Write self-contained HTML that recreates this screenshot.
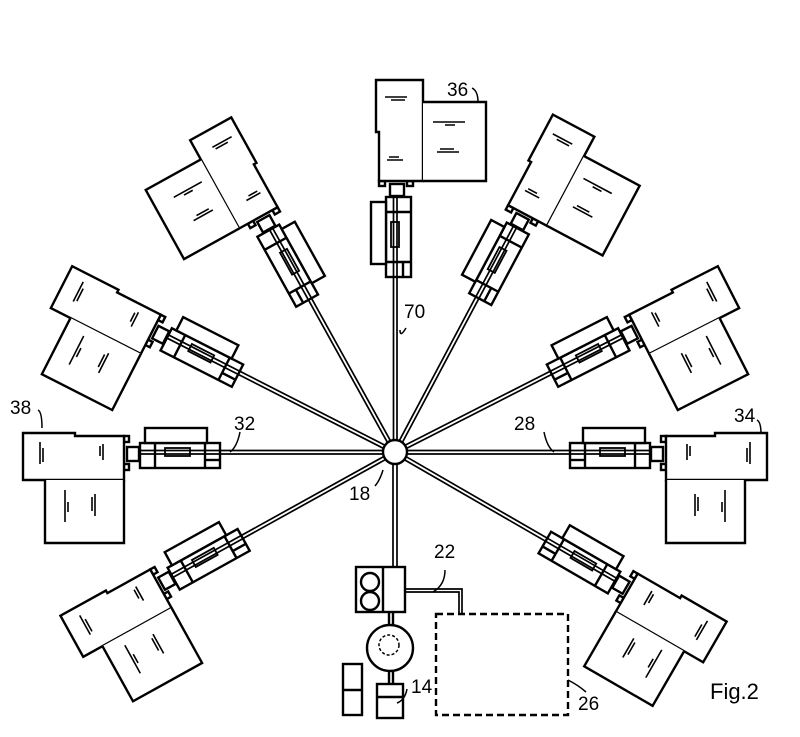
<!DOCTYPE html>
<html><head><meta charset="utf-8"><style>
html,body{margin:0;padding:0;background:#fff;}
svg{display:block;}
text{font-family:"Liberation Sans",sans-serif;fill:#000;}
</style></head><body>
<svg width="800" height="737" viewBox="0 0 800 737" xmlns="http://www.w3.org/2000/svg">
<defs>
<g id="st" fill="none" stroke="#000" stroke-width="2.4">
  <line x1="12" y1="-1.5" x2="256" y2="-1.5" stroke-width="1.7"/>
  <line x1="12" y1="2" x2="256" y2="2" stroke-width="1.7"/>
  <rect x="175" y="-9" width="80" height="25" fill="#fff"/>
  <line x1="175" y1="-1.5" x2="256" y2="-1.5" stroke-width="1.7"/>
  <line x1="175" y1="2" x2="256" y2="2" stroke-width="1.7"/>
  <line x1="190" y1="-9" x2="190" y2="16"/>
  <line x1="175" y1="8" x2="190" y2="8"/>
  <line x1="240" y1="-9" x2="240" y2="16"/>
  <rect x="205" y="-4" width="25" height="8" stroke-width="1.8"/>
  <rect x="188" y="-24" width="62" height="15" fill="#fff"/>
  <rect x="256" y="-5" width="12" height="14" fill="#fff"/>
  <rect x="266" y="-16" width="5" height="6"/>
  <rect x="266" y="12" width="5" height="6"/>
  <path d="M271,-16 L320,-16 L320,-19 L372,-19 L372,28 L271,28 Z" fill="#fff"/>
  <path d="M271,28 L271,91 L350,91 L350,28" fill="#fff"/>
  <path d="M292,-8 v16 M295,-6 v10 M355,-10 v22 M352,-4 v14 M300,42 v22 M303,45 v14 M330,38 v32 M327,50 v10" stroke-width="1.6"/>
</g>
</defs>
<g transform="translate(395,452)">
  <use href="#st" transform="rotate(-90)"/>
  <use href="#st" transform="rotate(-62)"/>
  <use href="#st" transform="rotate(-27)"/>
  <use href="#st" transform="rotate(0)"/>
  <use href="#st" transform="rotate(30)"/>
  <use href="#st" transform="rotate(151) scale(1,-1)"/>
  <use href="#st" transform="rotate(180) scale(1,-1)"/>
  <use href="#st" transform="rotate(-153) scale(1,-1)"/>
  <use href="#st" transform="rotate(-119) scale(1,-1)"/>
</g>
<g fill="none" stroke="#000" stroke-width="2.4">
  <line x1="393" y1="464" x2="393" y2="567" stroke-width="1.7"/>
  <line x1="397" y1="464" x2="397" y2="567" stroke-width="1.7"/>
  <circle cx="395" cy="452" r="12" fill="#fff"/>
  <rect x="356" y="567" width="49" height="45" fill="#fff"/>
  <line x1="383" y1="567" x2="383" y2="612"/>
  <circle cx="370" cy="582" r="9"/>
  <circle cx="370" cy="601" r="9"/>
  <path d="M405,589 H462 V614 M405,592 H459 V614" stroke-width="1.7"/>
  <line x1="389" y1="612" x2="389" y2="626"/>
  <line x1="393" y1="612" x2="393" y2="626"/>
  <circle cx="390" cy="648" r="23"/>
  <circle cx="389" cy="645" r="10" stroke-dasharray="3,2" stroke-width="1.5"/>
  <line x1="389" y1="671" x2="389" y2="684"/>
  <line x1="393" y1="671" x2="393" y2="684"/>
  <rect x="377" y="684" width="26" height="34"/>
  <line x1="377" y1="697" x2="403" y2="697"/>
  <rect x="343" y="664" width="19" height="51"/>
  <line x1="343" y1="690" x2="362" y2="690"/>
  <rect x="436" y="614" width="132" height="101" stroke-dasharray="7,4"/>
  <path d="M568,680 q10,5 18,12" stroke-width="1.5"/>
  <path d="M397,703 q8,-3 10,-14" stroke-width="1.5"/>
  <path d="M445,570 q0,15 -12,22" stroke-width="1.5"/>
  <path d="M400,330 q0,8 6,-2" stroke-width="1.5"/>
  <path d="M240,432 q-3,15 -10,20" stroke-width="1.5"/>
  <path d="M544,432 q3,15 10,20" stroke-width="1.5"/>
  <path d="M383,470 q-3,10 -8,16" stroke-width="1.5"/>
  <path d="M472,88 q6,3 6,14" stroke-width="1.5"/>
  <path d="M38,410 q4,2 4,18" stroke-width="1.5"/>
  <path d="M757,420 q4,2 4,14" stroke-width="1.5"/>
</g>
<g font-size="19">
  <text x="447" y="96">36</text>
  <text x="404" y="318">70</text>
  <text x="10" y="414">38</text>
  <text x="234" y="430">32</text>
  <text x="514" y="430">28</text>
  <text x="734" y="422">34</text>
  <text x="349" y="500">18</text>
  <text x="434" y="558">22</text>
  <text x="411" y="693">14</text>
  <text x="578" y="710">26</text>
  <text x="710" y="699" font-size="22">Fig.2</text>
</g>
</svg>
</body></html>
